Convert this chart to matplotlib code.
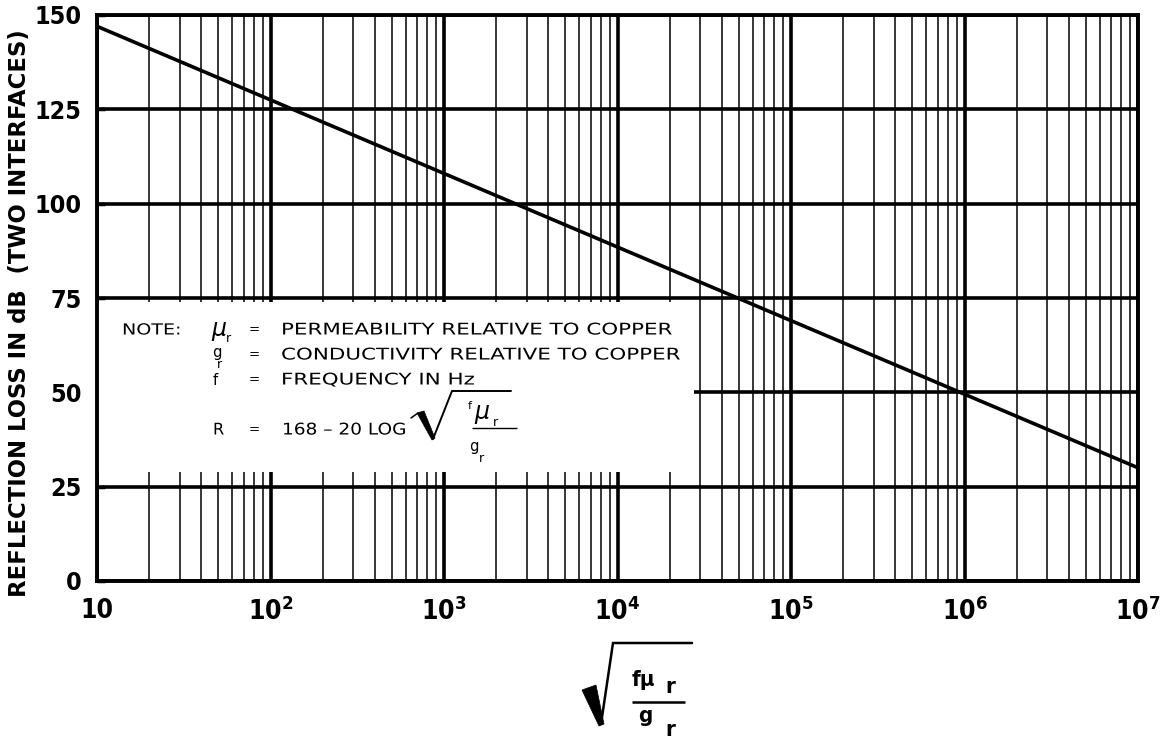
import matplotlib
matplotlib.use("Agg")
import matplotlib.pyplot as plt
from matplotlib import font_manager as fm
from matplotlib.font_manager import FontProperties
from matplotlib.ticker import LogLocator, FixedLocator, FixedFormatter, NullFormatter
from matplotlib.lines import Line2D
from matplotlib.patches import Polygon
from matplotlib.patheffects import AbstractPathEffect
from matplotlib.transforms import Affine2D

# ---- data ----
x_vals = [10, 1e7]          # sqrt(f*mu_r/g_r)
r_vals = [147, 30]          # reflection loss, dB
x_ticks = [1e1, 1e2, 1e3, 1e4, 1e5, 1e6, 1e7]
x_ticklabels = ["10", r"$\mathregular{10^{2}}$", r"$\mathregular{10^{3}}$",
                r"$\mathregular{10^{4}}$", r"$\mathregular{10^{5}}$",
                r"$\mathregular{10^{6}}$", r"$\mathregular{10^{7}}$"]
y_ticks = [0, 25, 50, 75, 100, 125, 150]
y_ticklabels = ["0", "25", "50", "75", "100", "125", "150"]
note_box_x = [10, 2.75e4]
note_box_y = [28.9, 74.0]
note_rows = [("\u03bc", "PERMEABILITY RELATIVE TO COPPER"),
             ("g", "CONDUCTIVITY RELATIVE TO COPPER"),
             ("f", "FREQUENCY IN Hz")]

# ---- fonts ----
cond_path = None
prefs = ["liberationsansnarrow-bold", "dejavusanscondensed-bold", "robotocondensed-bold",
         "opensans_condensed-bold", "opensanscondensed-bold", "notosans-condensedbold",
         "lato-bold"]
files = [f.fname for f in fm.fontManager.ttflist]
for p in prefs:
    for fn in files:
        base = fn.lower().replace(" ", "").split("/")[-1]
        if base.startswith(p):
            cond_path = fn
            break
    if cond_path:
        break
if cond_path is None:
    for fn in files:
        b = fn.lower().split("/")[-1]
        if ("condensed" in b or "narrow" in b) and "bold" in b and "italic" not in b and "oblique" not in b:
            cond_path = fn
            break

def cfont(size):
    if cond_path:
        return FontProperties(fname=cond_path, size=size)
    return FontProperties(family="DejaVu Sans", weight="bold", size=size * 0.85)

LIGHT = "DejaVu Sans"
plt.rcParams["mathtext.default"] = "regular"

W, H = 1164, 742
fig = plt.figure(figsize=(W / 100, H / 100), dpi=100)
ax = fig.add_axes([97 / W, 1 - 581 / H, (1138 - 97) / W, (581 - 15) / H])

ax.set_xscale("log")
ax.set_xlim(10, 1e7)
ax.set_ylim(0, 150)

ax.xaxis.set_major_locator(FixedLocator(x_ticks))
ax.xaxis.set_major_formatter(FixedFormatter(x_ticklabels))
ax.xaxis.set_minor_locator(LogLocator(base=10, subs=[2, 3, 4, 5, 6, 7, 8, 9], numticks=20))
ax.xaxis.set_minor_formatter(NullFormatter())
ax.yaxis.set_major_locator(FixedLocator(y_ticks))
ax.yaxis.set_major_formatter(FixedFormatter(y_ticklabels))

ax.set_axisbelow(True)
ax.grid(True, which="major", axis="both", color="black", lw=2.6)
ax.grid(True, which="minor", axis="x", color="black", lw=1.1)

for s in ax.spines.values():
    s.set_linewidth(2.8)

ax.tick_params(axis="x", which="both", length=0, pad=12)
ax.tick_params(axis="y", which="major", direction="in", length=6, width=2.5, pad=11)
for lab in ax.get_xticklabels():
    lab.set_fontproperties(cfont(19))
for lab in ax.get_yticklabels():
    lab.set_fontproperties(cfont(18))

# white note area
ax.fill_between(note_box_x, note_box_y[0], note_box_y[1], color="white", lw=0, zorder=1)

# data line
ax.plot(x_vals, r_vals, color="black", lw=2.6, zorder=3, solid_capstyle="butt")

# y label
fig.text(20 / W, 1 - 313 / H, "REFLECTION LOSS IN dB  (TWO INTERFACES)", rotation=90,
         ha="center", va="center", fontfamily="DejaVu Sans", fontweight="bold", fontsize=16.4)


class HStretch(AbstractPathEffect):
    """Widen rendered glyphs horizontally about the text's left anchor."""
    def __init__(self, x0, sx):
        super().__init__()
        self.x0, self.sx = x0, sx

    def draw_path(self, renderer, gc, tpath, affine, rgbFace=None):
        t = affine + Affine2D().translate(-self.x0, 0).scale(self.sx, 1).translate(self.x0, 0)
        renderer.draw_path(gc, tpath, t, rgbFace)


def px(x, y):
    return x / W, 1 - y / H

def seg(xs, ys, lw, cap="round"):
    fig.add_artist(Line2D([a / W for a in xs], [1 - b / H for b in ys], color="black",
                          lw=lw, solid_capstyle=cap, solid_joinstyle="miter"))

def wedge(pts):
    fig.add_artist(Polygon([px(a, b) for a, b in pts], closed=True, facecolor="black",
                           edgecolor="black", lw=0.5, transform=fig.transFigure))

def ntext(x, y, s, size, sx=1.33, **kw):
    fig.text(*px(x, y), s, ha="left", va="center", fontfamily=LIGHT, fontsize=size,
             path_effects=[HStretch(x, sx)], **kw)

# note text
nfs = 11.6
ntext(122, 330, "NOTE:", nfs - 0.6, sx=1.25)
row_y = [330, 355, 380]
for (sym, desc), yy in zip(note_rows, row_y):
    if sym == "\u03bc":
        fig.text(*px(211, yy - 1), sym, ha="left", va="center", fontfamily=LIGHT,
                 fontsize=17, style="italic")
        fig.text(*px(226, yy + 9), "r", ha="left", va="center", fontfamily=LIGHT, fontsize=9)
    elif sym == "g":
        fig.text(*px(212, yy - 2), sym, ha="left", va="center", fontfamily=LIGHT, fontsize=nfs - 1)
        fig.text(*px(217, yy + 10), "r", ha="left", va="center", fontfamily=LIGHT, fontsize=9)
    else:
        fig.text(*px(213, yy), sym, ha="left", va="center", fontfamily=LIGHT, fontsize=nfs - 1)
    fig.text(*px(254, yy), "=", ha="center", va="center", fontfamily=LIGHT, fontsize=nfs - 2)
    ntext(281, yy, desc, nfs)

ntext(213, 430, "R", nfs, sx=1.0)
fig.text(*px(254, 430), "=", ha="center", va="center", fontfamily=LIGHT, fontsize=nfs - 2)
ntext(282, 430, "168 \u2013 20 LOG", nfs, sx=1.15)
# radical in note
seg([411, 418], [418, 413], 1.1)
wedge([(417, 413), (424, 411), (435, 438), (432, 440)])
seg([433, 452, 511], [439, 391, 391], 1.4)
fig.text(*px(468, 406), "f", ha="left", va="center", fontfamily=LIGHT, fontsize=8)
fig.text(*px(474, 412), "\u03bc", ha="left", va="center", fontfamily=LIGHT, fontsize=17, style="italic")
fig.text(*px(493, 423), "r", ha="left", va="center", fontfamily=LIGHT, fontsize=9)
seg([472, 517], [428, 428], 1.0, "butt")
fig.text(*px(469, 446), "g", ha="left", va="center", fontfamily=LIGHT, fontsize=nfs - 1)
fig.text(*px(479, 458), "r", ha="left", va="center", fontfamily=LIGHT, fontsize=9)

# x label: radical of f mu_r / g_r
wedge([(582, 690), (596, 685), (604, 724), (599, 726)])
seg([601, 613, 692], [724, 643, 643], 1.8)
fig.text(*px(632, 680), "f\u03bc", ha="left", va="center", fontproperties=cfont(16))
fig.text(*px(665, 687), "r", ha="left", va="center", fontproperties=cfont(16))
seg([632, 685], [702, 702], 1.8, "butt")
fig.text(*px(638, 716), "g", ha="left", va="center", fontproperties=cfont(16))
fig.text(*px(665, 730), "r", ha="left", va="center", fontproperties=cfont(16))

fig.savefig("out.png", dpi=100, facecolor="white")
